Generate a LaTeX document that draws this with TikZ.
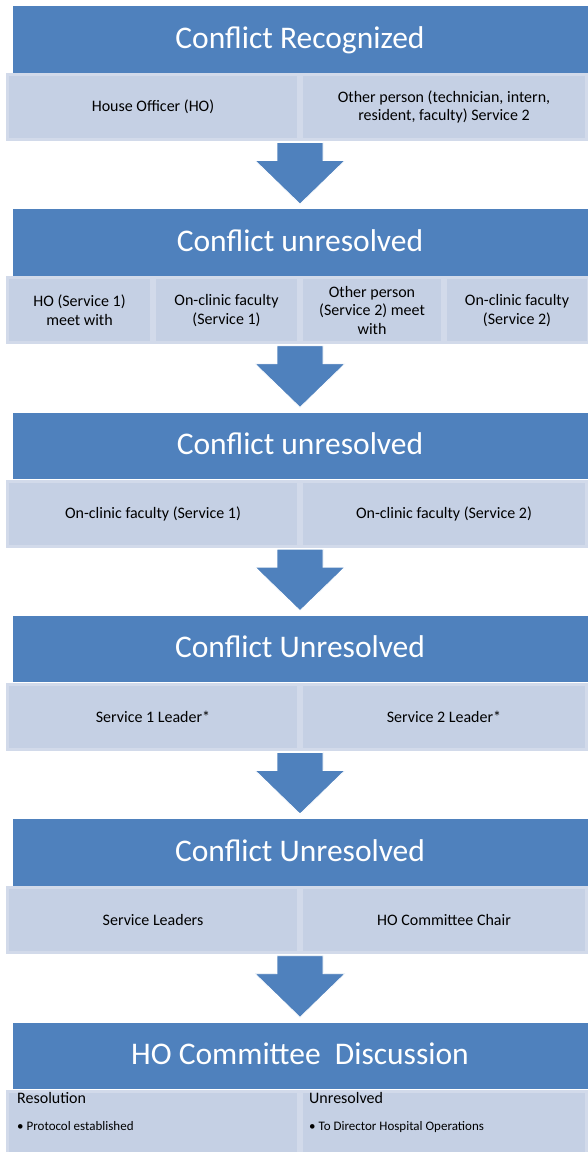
\documentclass[tikz,border=0pt]{standalone}
\usepackage{fontspec}
\setmainfont{Carlito}
\usetikzlibrary{calc}

\definecolor{hdrblue}{HTML}{4F81BD}
\definecolor{subfill}{HTML}{C5D0E4}
\definecolor{subedge}{HTML}{D2DAEA}

\begin{document}
\begin{tikzpicture}[x=1pt,y=-1pt,
	header/.style={fill=hdrblue,text=white,minimum width=575pt,minimum height=66.5pt,
		inner sep=0pt,font=\fontsize{31.5}{36}\selectfont,text height=24pt,text depth=6.5pt},
	subbox/.style={fill=subfill,draw=subedge,line width=3pt,minimum height=65pt,
		inner sep=0pt,align=center,font=\fontsize{16}{18.5}\selectfont},
	flow/.style={fill=hdrblue,draw=white,line width=0.8pt}]

\useasboundingbox (0,0) rectangle (587,1152);

% block arrow from a row down to the next header
\def\flowarrow#1#2{\fill[flow] ($(#1)+(-23,1.5)$)--($(#1)+(23,1.5)$)--($(#1)+(23,19.5)$)
	--($(#1)+(45,19.5)$)--($(#2.north)+(0,-5)$)--($(#1)+(-45,19.5)$)--($(#1)+(-23,19.5)$)--cycle;}

% level 1
\node[header] (h1) at (300,39.25) {Conflict Recognized};
\node[subbox,minimum width=291pt] (s1a) at (153,107) {House Officer (HO)};
\node[subbox,minimum width=285pt] (s1b) at (444,107)
	{Other person (technician, intern,\\resident, faculty) Service 2};

% level 2
\node[header] (h2) at (300,242.55) {Conflict unresolved};
\node[subbox,minimum width=144pt] (s2a) at (79.5,310.3) {HO (Service 1)\\meet with};
\node[subbox,minimum width=144pt] (s2b) at (226.5,310.3) {On-clinic faculty\\(Service 1)};
\node[subbox,minimum width=141pt] (s2c) at (372,310.3) {Other person\\(Service 2) meet\\with};
\node[subbox,minimum width=143pt] (s2d) at (517,310.3) {On-clinic faculty\\(Service 2)};

% level 3
\node[header] (h3) at (300,445.85) {Conflict unresolved};
\node[subbox,minimum width=291pt] (s3a) at (153,513.6) {On-clinic faculty (Service 1)};
\node[subbox,minimum width=285pt] (s3b) at (444,513.6) {On-clinic faculty (Service 2)};

% level 4
\node[header] (h4) at (300,649.15) {Conflict Unresolved};
\node[subbox,minimum width=291pt] (s4a) at (153,716.9) {Service 1 Leader*};
\node[subbox,minimum width=285pt] (s4b) at (444,716.9) {Service 2 Leader*};

% level 5
\node[header] (h5) at (300,852.45) {Conflict Unresolved};
\node[subbox,minimum width=291pt] (s5a) at (153,920.2) {Service Leaders};
\node[subbox,minimum width=285pt] (s5b) at (444,920.2) {HO Committee Chair};

% level 6
\node[header] (h6) at (300,1055.75) {HO Committee\ \ Discussion};
\node[subbox,minimum width=291pt] (s6a) at (153,1123.5) {};
\node[subbox,minimum width=285pt] (s6b) at (444,1123.5) {};

\node[anchor=north west,align=left,inner sep=0pt,font=\fontsize{16}{22}\selectfont]
	(res) at ($(s6a.north west)+(11,3)$)
	{Resolution\\[5pt]{\fontsize{13}{15}\selectfont\textbullet\ Protocol established}};
\node[anchor=north west,align=left,inner sep=0pt,font=\fontsize{16}{22}\selectfont]
	(unres) at ($(s6b.north west)+(9,3)$)
	{Unresolved\\[5pt]{\fontsize{13}{15}\selectfont\textbullet\ To Director Hospital Operations}};

% arrows
\coordinate (a1) at (h1.south |- s1a.south);
\coordinate (a2) at (h2.south |- s2b.south);
\coordinate (a3) at (h3.south |- s3a.south);
\coordinate (a4) at (h4.south |- s4a.south);
\coordinate (a5) at (h5.south |- s5a.south);

\flowarrow{a1}{h2}
\flowarrow{a2}{h3}
\flowarrow{a3}{h4}
\flowarrow{a4}{h5}
\flowarrow{a5}{h6}

\end{tikzpicture}
\end{document}
